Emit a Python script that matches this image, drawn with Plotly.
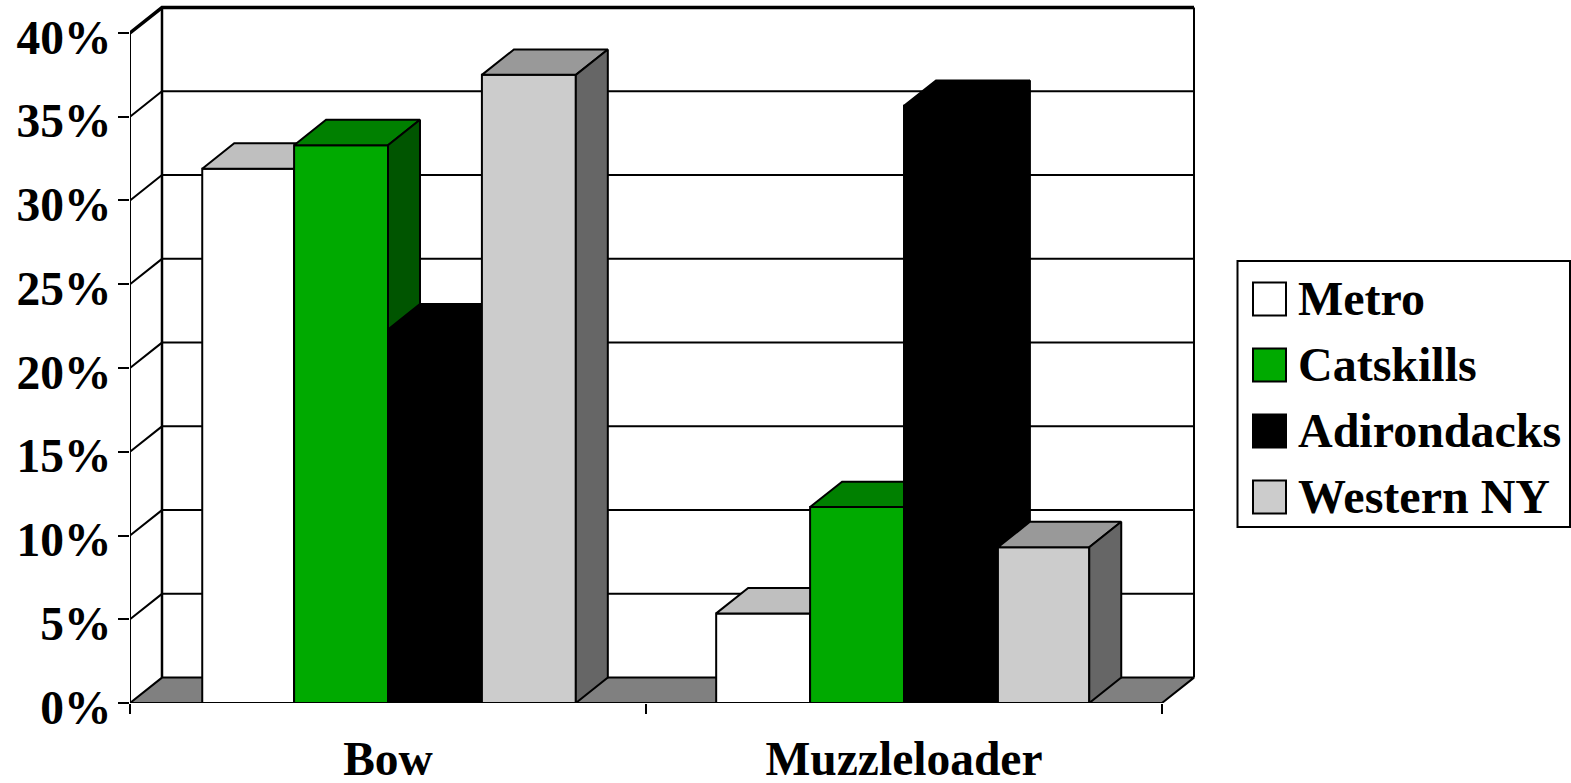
import plotly.graph_objects as go

W, H = 1571, 783
FONT = "Liberation Serif"

categories = ["Bow", "Muzzleloader"]
series_names = ["Metro", "Catskills", "Adirondacks", "Western NY"]
metro = [31.9, 5.35]
catskills = [33.3, 11.7]
adirondacks = [22.3, 35.65]
western_ny = [37.5, 9.3]
y_ticks = [0, 5, 10, 15, 20, 25, 30, 35, 40]
y_tick_labels = ["0%", "5%", "10%", "15%", "20%", "25%", "30%", "35%", "40%"]

series_values = [metro, catskills, adirondacks, western_ny]
front_colors = ["#FFFFFF", "#00AA00", "#000000", "#CCCCCC"]
top_colors = ["#BFBFBF", "#008000", "#000000", "#999999"]
side_colors = ["#808080", "#005500", "#000000", "#666666"]

# fake 3D depth, in axis units
DEPTH_X = 0.062
DEPTH_Y = 1.516
BAR_WIDTH = 0.182
# the reference has two bars a few pixels narrower: (series, category) -> (left, right)
BAR_TRIM = {(0, 0): (0.004, 0.0), (3, 1): (0.0, 0.005)}
X_MAX = len(categories)
Y_MAX = 40
centers = [i + 0.5 for i in range(X_MAX)]

# plot area in page pixels, a bit of air past the walls so the thick top edge isn't clipped
LEFT, RIGHT, TOP, BOTTOM = 130, 1198, 3, 703
x_range = [0, X_MAX + DEPTH_X + 0.00775]
y_range = [0, Y_MAX + DEPTH_Y + 0.274]


def px(x):
    return (x - LEFT) / (RIGHT - LEFT)


def py(y):
    return (BOTTOM - y) / (BOTTOM - TOP)


fig = go.Figure()


def line_trace(xs, ys, width=2, **kw):
    return go.Scatter(x=xs, y=ys, mode="lines", showlegend=False, hoverinfo="skip",
                      cliponaxis=False, line=dict(color="black", width=width), **kw)


# floor
fig.add_trace(line_trace([0, X_MAX, X_MAX + DEPTH_X, DEPTH_X, 0],
                         [0, 0, DEPTH_Y, DEPTH_Y, 0],
                         fill="toself", fillcolor="#808080"))
# gridlines on side and back wall
gx, gy = [], []
for t in y_ticks[1:-1]:
    gx += [0, DEPTH_X, X_MAX + DEPTH_X, None]
    gy += [t, t + DEPTH_Y, t + DEPTH_Y, None]
fig.add_trace(line_trace(gx, gy))
# wall edges
fig.add_trace(line_trace([0, 0, None, X_MAX + DEPTH_X, X_MAX + DEPTH_X, None, 0, X_MAX],
                         [0, Y_MAX, None, DEPTH_Y, Y_MAX + DEPTH_Y, None, 0, 0]))
fig.add_trace(line_trace([DEPTH_X, DEPTH_X], [DEPTH_Y, Y_MAX + DEPTH_Y], width=2.5))
fig.add_trace(line_trace([0, DEPTH_X, X_MAX + DEPTH_X], [Y_MAX, Y_MAX + DEPTH_Y, Y_MAX + DEPTH_Y], width=3.5))

# each series sits on its own overlaid axes so it paints over the one before it
for i, name in enumerate(series_names):
    n = str(i + 2)
    values = series_values[i]
    top_x, top_y, side_x, side_y = [], [], [], []
    bar_offsets, bar_widths = [], []
    for k, (c, v) in enumerate(zip(centers, values)):
        trim_l, trim_r = BAR_TRIM.get((i, k), (0.0, 0.0))
        x0 = c + (i - 2) * BAR_WIDTH + trim_l
        x1 = c + (i - 1) * BAR_WIDTH - trim_r
        bar_offsets.append(x0 - c)
        bar_widths.append(x1 - x0)
        top_x += [x0, x1, x1 + DEPTH_X, x0 + DEPTH_X, x0, None]
        top_y += [v, v, v + DEPTH_Y, v + DEPTH_Y, v, None]
        side_x += [x1, x1 + DEPTH_X, x1 + DEPTH_X, x1, x1, None]
        side_y += [0, DEPTH_Y, v + DEPTH_Y, v, 0, None]
    fig.add_trace(go.Bar(x=centers, y=values, name=name, width=bar_widths, offset=bar_offsets,
                         marker=dict(color=front_colors[i], line=dict(color="black", width=2)),
                         showlegend=False, xaxis="x" + n, yaxis="y" + n))
    fig.add_trace(line_trace(top_x, top_y, fill="toself", fillcolor=top_colors[i],
                             xaxis="x" + n, yaxis="y" + n))
    fig.add_trace(line_trace(side_x, side_y, fill="toself", fillcolor=side_colors[i],
                             xaxis="x" + n, yaxis="y" + n))
    fig.update_layout(**{
        "xaxis" + n: dict(range=x_range, overlaying="x", visible=False, anchor="y" + n),
        "yaxis" + n: dict(range=y_range, overlaying="y", visible=False, anchor="x" + n),
    })

fig.update_layout(
    xaxis=dict(range=x_range, showgrid=False, zeroline=False, showline=False,
               tickmode="array", tickvals=centers, ticktext=["<b>%s</b>" % c for c in categories],
               ticks="", ticklen=0, ticklabelstandoff=23,
               tickfont=dict(family=FONT, size=47.5, color="black"),
               minor=dict(tickmode="array", tickvals=list(range(X_MAX + 1)), ticks="outside",
                          ticklen=10, tickwidth=2, tickcolor="black", showgrid=False)),
    yaxis=dict(range=y_range, showgrid=False, zeroline=False, showline=False,
               tickmode="array", tickvals=y_ticks, ticktext=["<b>%s</b>" % t for t in y_tick_labels],
               ticks="outside", ticklen=11, tickwidth=2, tickcolor="black",
               ticklabelstandoff=-3, ticklabelshift=4,
               tickfont=dict(family=FONT, size=47.5, color="black")),
)

# legend box, swatches are bigger than the native legend allows
shapes = [dict(type="rect", xref="paper", yref="paper", x0=px(1237.5), x1=px(1570),
               y0=py(261), y1=py(527), line=dict(color="black", width=2), fillcolor="white")]
annotations = []
for i, name in enumerate(series_names):
    top = 282.5 + i * 66
    shapes.append(dict(type="rect", xref="paper", yref="paper", x0=px(1253), x1=px(1286),
                       y0=py(top), y1=py(top + 33),
                       line=dict(color="black", width=2), fillcolor=front_colors[i]))
    annotations.append(dict(xref="paper", yref="paper", x=px(1296), y=py(top + 16),
                            xanchor="left", yanchor="middle", showarrow=False, text="<b>%s</b>" % name,
                            font=dict(family=FONT, size=48, color="black")))

fig.update_layout(
    width=W, height=H,
    margin=dict(l=LEFT, r=W - RIGHT, t=TOP, b=H - BOTTOM, autoexpand=False),
    plot_bgcolor="white", paper_bgcolor="white",
    font=dict(family=FONT, size=46, color="black"),
    barmode="overlay", showlegend=False,
    shapes=shapes, annotations=annotations,
)
fig.write_html("out.html", config=dict(displayModeBar=False),
               post_script="document.body.style.margin='0';document.body.style.overflow='hidden';")
